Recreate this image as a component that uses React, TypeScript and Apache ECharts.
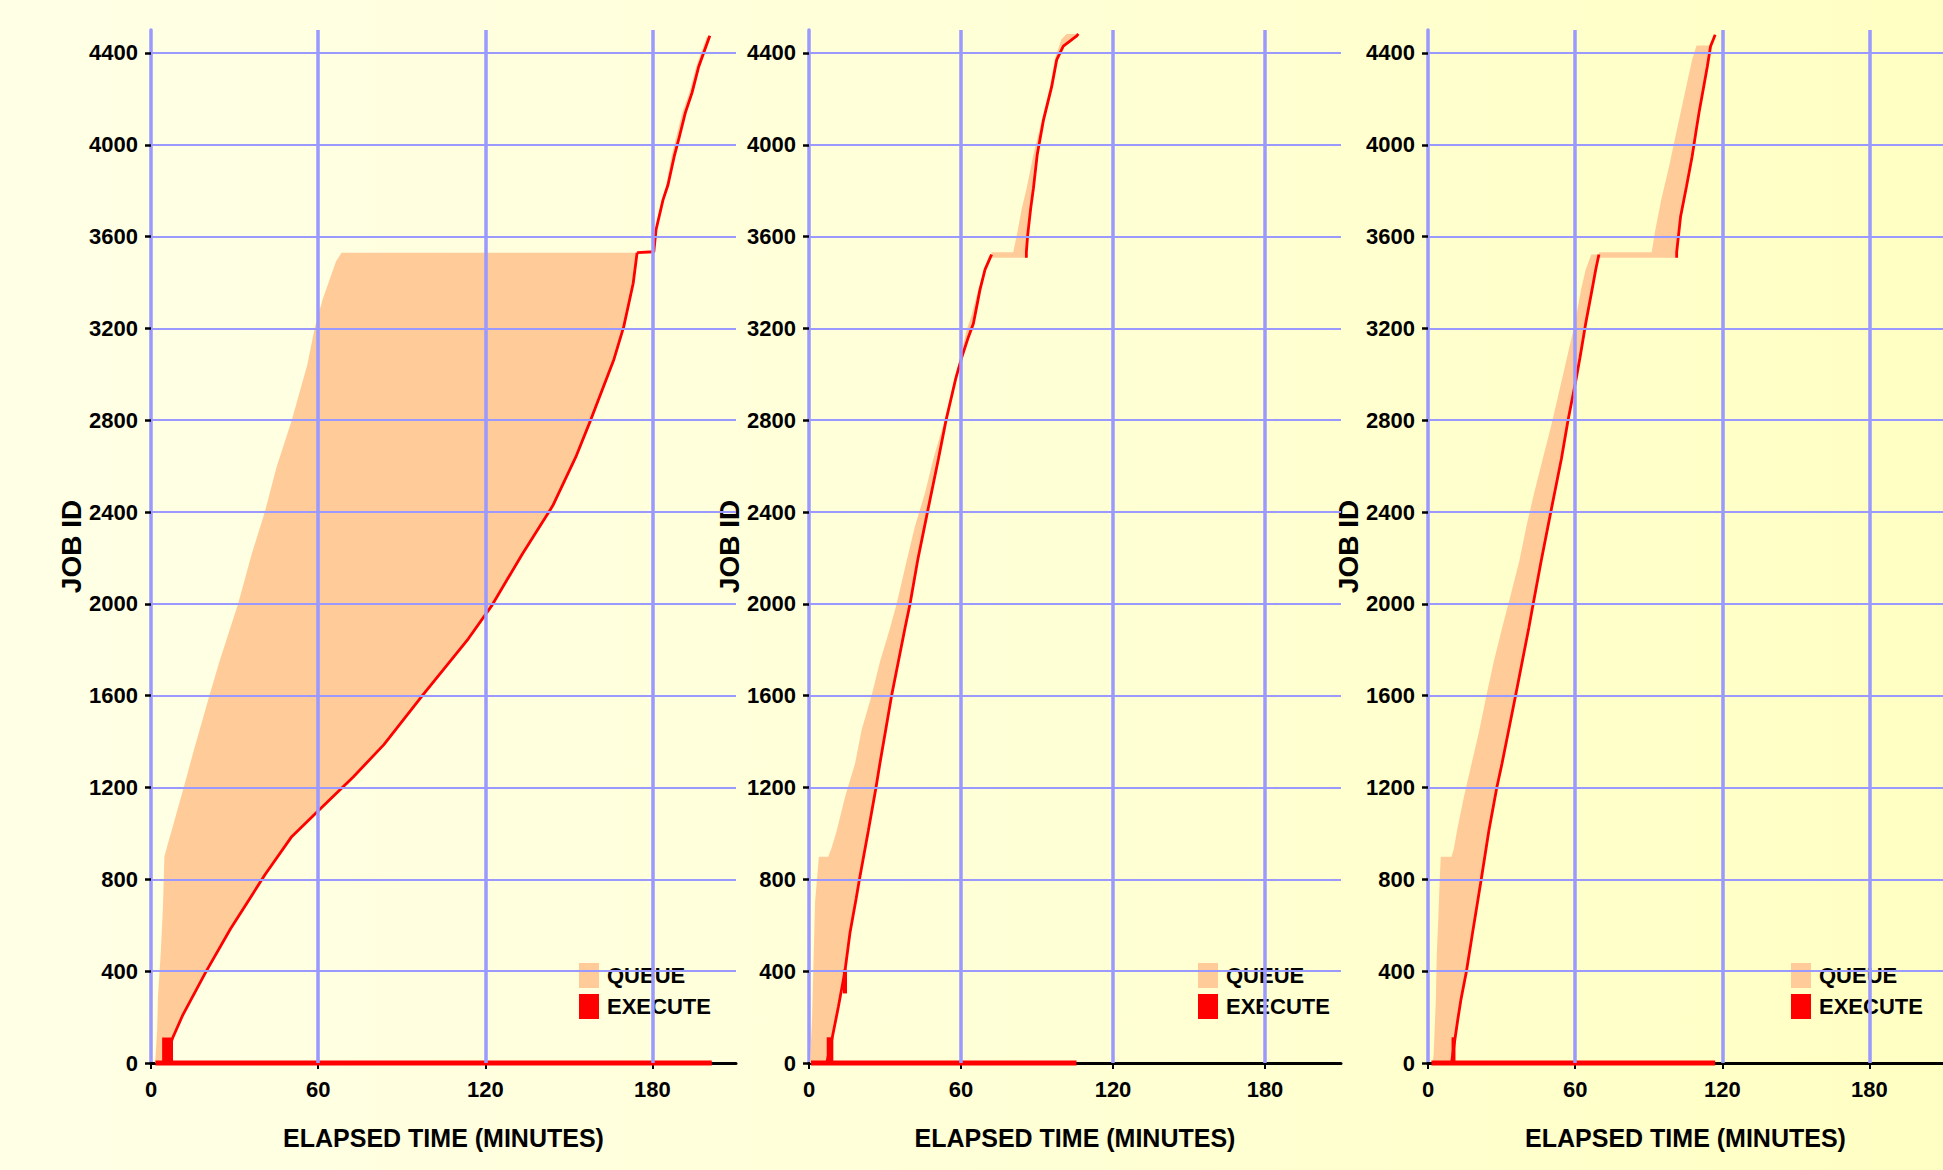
import React, { useEffect, useRef } from 'react';
import * as echarts from 'echarts';

// ---------- axis / tick data ----------
const X_TICKS = [0, 60, 120, 180];
const Y_TICKS = [0, 400, 800, 1200, 1600, 2000, 2400, 2800, 3200, 3600, 4000, 4400];
const X_GRID = [60, 120, 180];
const Y_GRID = [400, 800, 1200, 1600, 2000, 2400, 2800, 3200, 3600, 4000, 4400];
const X_MAX = 210;
const Y_MAX = 4500;
const LEGEND_NAMES = ['QUEUE', 'EXECUTE'];

// ---------- panel 1 ----------
const P1_LOW_SUBMIT_T = [1.5, 2.2, 2.5, 3.5, 4.3, 4.8, 6.2, 7.9, 10.6, 11.7, 15.4, 20.9, 24.4, 31.3, 36.1, 40.9, 45.0, 50.5, 56.1, 58.8, 61.6, 66.4, 68.4];
const P1_LOW_SUBMIT_JOB = [0, 144, 289, 479, 681, 900, 962, 1033, 1151, 1198, 1364, 1598, 1742, 2002, 2215, 2402, 2593, 2799, 3042, 3203, 3326, 3491, 3530];
const P1_LOW_START_T = [4.5, 7.8, 11.3, 19.6, 28.5, 40.9, 50.5, 59.5, 72.6, 83.6, 97.4, 113.9, 122.2, 133.2, 144.2, 152.5, 158.0, 166.2, 169.7, 173.1, 174.5];
const P1_LOW_START_JOB = [0, 110, 206, 395, 584, 820, 986, 1092, 1246, 1387, 1600, 1848, 1990, 2215, 2427, 2640, 2806, 3066, 3208, 3397, 3530];
const P1_UP_SUBMIT_T = [180.3, 181.2, 183.4, 185.0, 186.8, 188.3, 190.7, 193.2, 195.7, 199.5];
const P1_UP_SUBMIT_JOB = [3534, 3630, 3760, 3826, 3948, 4022, 4139, 4226, 4340, 4470];
const P1_UP_START_T = [174.5, 180.5, 181.3, 183.8, 185.6, 187.8, 189.4, 191.8, 194.2, 196.6, 200.6];
const P1_UP_START_JOB = [3530, 3534, 3630, 3760, 3826, 3948, 4022, 4139, 4226, 4340, 4475];
const P1_BLOCKS = [[0, 111, 4.0, 7.9]];
const P1_RUN = [1.6, 201.3];

// ---------- panel 2 ----------
const P2_LOW_SUBMIT_T = [0.4, 1.2, 2.4, 3.9, 7.6, 8.9, 10.9, 14.2, 18.2, 20.8, 24.7, 28.0, 32.0, 34.6, 38.6, 41.8, 45.8, 49.1, 53.0, 56.3, 58.2, 59.8, 62.2, 64.0, 66.8, 71.0, 71.4];
const P2_LOW_SUBMIT_JOB = [0, 192, 701, 899, 899, 937, 1011, 1158, 1306, 1453, 1600, 1748, 1895, 2001, 2190, 2337, 2484, 2632, 2779, 2926, 3015, 3074, 3192, 3251, 3369, 3516, 3522];
const P2_LOW_START_T = [7.0, 9.2, 11.6, 14.2, 16.2, 18.6, 19.9, 23.4, 26.4, 28.0, 32.6, 37.9, 39.9, 42.9, 46.8, 51.1, 54.1, 58.0, 60.3, 62.9, 64.9, 67.5, 69.5, 72.1];
const P2_LOW_START_JOB = [0, 112, 245, 401, 569, 716, 799, 1011, 1197, 1306, 1600, 1895, 2001, 2190, 2402, 2632, 2800, 2985, 3074, 3162, 3221, 3369, 3457, 3522];
const P2_UP_SUBMIT_T = [72.1, 72.1, 80.6, 82.0, 84.0, 85.9, 88.6, 91.8, 95.1, 97.0, 99.6, 101.7];
const P2_UP_SUBMIT_JOB = [3508, 3532, 3532, 3604, 3722, 3811, 3958, 4105, 4253, 4371, 4459, 4483];
const P2_UP_START_T = [85.8, 85.8, 86.3, 87.5, 88.6, 90.1, 92.5, 95.8, 97.8, 100.4, 105.7, 106.3];
const P2_UP_START_JOB = [3508, 3532, 3604, 3722, 3811, 3958, 4105, 4253, 4371, 4430, 4474, 4483];
const P2_BLOCKS = [[0, 112, 7.0, 9.6], [303, 407, 13.4, 15.0]];
const P2_RUN = [0.8, 105.6];

// ---------- panel 3 ----------
const P3_LOW_SUBMIT_T = [1.9, 2.3, 3.2, 3.6, 4.2, 4.7, 5.2, 9.6, 10.6, 11.8, 14.6, 17.8, 21.0, 23.8, 26.8, 30.2, 33.8, 37.3, 40.1, 43.3, 46.8, 50.3, 53.5, 56.7, 59.9, 62.4, 64.3, 66.6];
const P3_LOW_SUBMIT_JOB = [0, 38, 274, 480, 628, 775, 899, 899, 937, 1011, 1158, 1306, 1453, 1600, 1748, 1895, 2042, 2190, 2337, 2484, 2632, 2779, 2926, 3074, 3221, 3369, 3457, 3522];
const P3_LOW_START_T = [9.6, 11.1, 12.1, 13.4, 15.7, 18.2, 21.7, 24.8, 28.0, 30.2, 35.7, 41.1, 42.9, 46.2, 50.1, 54.4, 57.1, 60.5, 62.0, 64.3, 66.9, 68.4, 69.7];
const P3_LOW_START_JOB = [0, 112, 186, 274, 401, 569, 799, 1011, 1197, 1306, 1600, 1895, 2001, 2190, 2402, 2632, 2800, 2985, 3074, 3221, 3369, 3457, 3522];
const P3_UP_SUBMIT_T = [69.7, 69.7, 91.2, 92.7, 95.1, 98.3, 100.6, 103.0, 105.3, 107.7, 109.5, 114.6];
const P3_UP_SUBMIT_JOB = [3508, 3532, 3532, 3630, 3760, 3905, 4022, 4139, 4254, 4370, 4433, 4433];
const P3_UP_START_T = [101.4, 101.4, 103.0, 105.4, 107.7, 109.2, 110.7, 112.2, 113.9, 115.2, 117.1];
const P3_UP_START_JOB = [3508, 3532, 3688, 3818, 3949, 4052, 4152, 4240, 4341, 4428, 4479];
const P3_BLOCKS = [[0, 112, 9.6, 11.2]];
const P3_RUN = [1.4, 117.1];

// ---------- styles ----------
const QUEUE_COLOR = '#FFCC99';
const EXEC_COLOR = '#FF0000';
const GRID_COLOR = '#9999FF';
const FONT = "'Liberation Sans', Arial, sans-serif";
const GRID_TOP = 30;
const GRID_H = 1033;

type Seg = { subT: number[]; subJ: number[]; staT: number[]; staJ: number[] };

const PANELS = [
  {
    left: 151, width: 585, legendLeft: 574, nameGap: 56,
    segs: [
      { subT: P1_LOW_SUBMIT_T, subJ: P1_LOW_SUBMIT_JOB, staT: P1_LOW_START_T, staJ: P1_LOW_START_JOB },
      { subT: P1_UP_SUBMIT_T, subJ: P1_UP_SUBMIT_JOB, staT: P1_UP_START_T, staJ: P1_UP_START_JOB },
    ] as Seg[],
    blocks: P1_BLOCKS, run: P1_RUN,
  },
  {
    left: 809, width: 532, legendLeft: 1193, nameGap: 44,
    segs: [
      { subT: P2_LOW_SUBMIT_T, subJ: P2_LOW_SUBMIT_JOB, staT: P2_LOW_START_T, staJ: P2_LOW_START_JOB },
      { subT: P2_UP_SUBMIT_T, subJ: P2_UP_SUBMIT_JOB, staT: P2_UP_START_T, staJ: P2_UP_START_JOB },
    ] as Seg[],
    blocks: P2_BLOCKS, run: P2_RUN,
  },
  {
    left: 1428, width: 549, legendLeft: 1786, nameGap: 44,
    segs: [
      { subT: P3_LOW_SUBMIT_T, subJ: P3_LOW_SUBMIT_JOB, staT: P3_LOW_START_T, staJ: P3_LOW_START_JOB },
      { subT: P3_UP_SUBMIT_T, subJ: P3_UP_SUBMIT_JOB, staT: P3_UP_START_T, staJ: P3_UP_START_JOB },
    ] as Seg[],
    blocks: P3_BLOCKS, run: P3_RUN,
  },
];

function buildOption() {
  const textBase = { fontFamily: FONT, fontWeight: 'bold' as const, color: '#000' };
  const grid = PANELS.map((p) => ({ left: p.left, top: GRID_TOP, width: p.width, height: GRID_H }));
  const xAxis = PANELS.map((p, i) => ({
    gridIndex: i,
    type: 'value',
    min: 0,
    max: X_MAX,
    interval: 60,
    name: 'ELAPSED TIME (MINUTES)',
    nameLocation: 'middle',
    nameGap: 62,
    nameTextStyle: { ...textBase, fontSize: 25 },
    axisLine: { show: true, onZero: false, lineStyle: { color: '#000', width: 3 } },
    axisTick: { show: true, length: 6, lineStyle: { color: '#000', width: 2 }, customValues: X_TICKS },
    axisLabel: {
      ...textBase, fontSize: 22, margin: 15, customValues: X_TICKS,
      formatter: (v: number) => (X_TICKS.includes(v) ? String(v) : ''),
    },
    splitLine: { show: false },
  }));
  const yAxis = PANELS.map((p, i) => ({
    gridIndex: i,
    type: 'value',
    min: 0,
    max: Y_MAX,
    interval: 400,
    name: 'JOB ID',
    nameLocation: 'middle',
    nameGap: p.nameGap,
    nameTextStyle: { ...textBase, fontSize: 28 },
    axisLine: { show: true, onZero: false, lineStyle: { color: GRID_COLOR, width: 3.5 } },
    axisTick: { show: true, length: 6, lineStyle: { color: '#000', width: 2.5 }, customValues: Y_TICKS },
    axisLabel: {
      ...textBase, fontSize: 22, margin: 13, customValues: Y_TICKS,
      formatter: (v: number) => (Y_TICKS.includes(v) ? String(v) : ''),
    },
    splitLine: { show: false },
  }));

  const series: any[] = [];
  PANELS.forEach((p, i) => {
    const axes = { xAxisIndex: i, yAxisIndex: i };
    // grid lines (below everything)
    series.push({
      type: 'line', name: 'gridlines' + i, ...axes, data: [[0, 0]], symbol: 'none', showSymbol: false,
      lineStyle: { opacity: 0 }, silent: true, z: 1,
      markLine: {
        silent: true, symbol: ['none', 'none'], label: { show: false },
        lineStyle: { color: GRID_COLOR, type: 'solid' },
        data: [
          ...X_GRID.map((v) => ({ xAxis: v, lineStyle: { color: GRID_COLOR, type: 'solid', width: 3.5 } })),
          ...Y_GRID.map((v) => ({ yAxis: v, lineStyle: { color: GRID_COLOR, type: 'solid', width: 2 } })),
        ],
      },
    });
    // queue polygons
    const segs = p.segs;
    series.push({
      type: 'custom', name: 'QUEUE', ...axes, silent: true, z: 2,
      itemStyle: { color: QUEUE_COLOR },
      data: segs.map((_, k) => [k]),
      renderItem: (params: any, api: any) => {
        const s = segs[params.dataIndex];
        const left = s.subT.map((t, k) => api.coord([t, s.subJ[k]]));
        const right = s.staT.map((t, k) => api.coord([t, s.staJ[k]])).reverse();
        return { type: 'polygon', shape: { points: [...left, ...right] }, style: { fill: QUEUE_COLOR } };
      },
    });
    // execute start curves
    segs.forEach((s) => {
      series.push({
        type: 'line', name: 'EXECUTE', ...axes, silent: true, z: 4,
        symbol: 'none', showSymbol: false,
        lineStyle: { color: EXEC_COLOR, width: 2.8 }, itemStyle: { color: EXEC_COLOR },
        data: s.staT.map((t, k) => [t, s.staJ[k]]),
      });
    });
    // execute blocks
    series.push({
      type: 'custom', name: 'EXECUTE', ...axes, silent: true, z: 4,
      itemStyle: { color: EXEC_COLOR },
      encode: { x: [2, 3], y: [0, 1] },
      data: p.blocks,
      renderItem: (params: any, api: any) => {
        const a = api.coord([api.value(2), api.value(1)]);
        const b = api.coord([api.value(3), api.value(0)]);
        return { type: 'rect', shape: { x: a[0], y: a[1], width: b[0] - a[0], height: b[1] - a[1] }, style: { fill: EXEC_COLOR } };
      },
    });
    // long-running job along job 0
    series.push({
      type: 'line', name: 'EXECUTE', ...axes, silent: true, z: 4, clip: false,
      symbol: 'none', showSymbol: false,
      lineStyle: { color: EXEC_COLOR, width: 5 }, itemStyle: { color: EXEC_COLOR },
      data: [[p.run[0], 0], [p.run[1], 0]],
    });
  });

  const legend = PANELS.map((p) => ({
    left: p.legendLeft,
    top: 958,
    orient: 'vertical',
    itemWidth: 20,
    itemHeight: 25,
    itemGap: 6,
    selectedMode: false,
    itemStyle: { borderWidth: 0 },
    textStyle: { ...textBase, fontSize: 22, padding: [0, 0, 0, 3] },
    data: LEGEND_NAMES.map((n) => ({ name: n, icon: 'rect' })),
  }));

  return {
    animation: false,
    backgroundColor: new echarts.graphic.LinearGradient(0, 0, 1, 0, [
      { offset: 0, color: '#FFFFE6' },
      { offset: 0.5, color: '#FFFFD7' },
      { offset: 1, color: '#FFFFC3' },
    ]),
    grid,
    xAxis,
    yAxis,
    legend,
    series,
  };
}

export default function App() {
  const ref = useRef<HTMLDivElement>(null);
  useEffect(() => {
    if (!ref.current) return;
    const chart = echarts.init(ref.current, null, { renderer: 'svg' });
    chart.setOption(buildOption() as any);
    return () => chart.dispose();
  }, []);
  return <div ref={ref} style={{ position: 'absolute', left: 0, top: 0, width: 1943, height: 1170 }} />;
}
